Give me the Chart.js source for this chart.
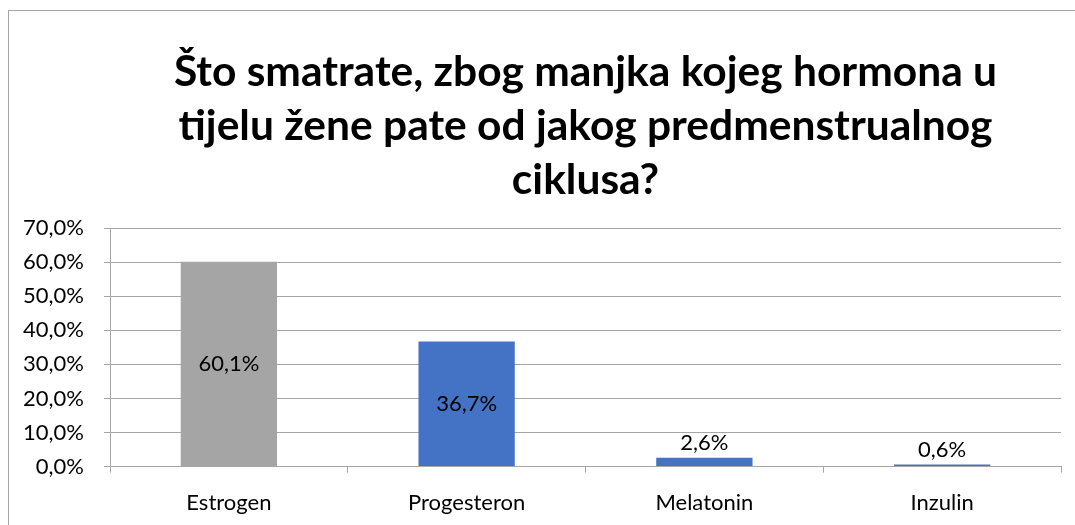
<!DOCTYPE html>
<html>
<head>
<meta charset="utf-8">
<script src="https://cdn.jsdelivr.net/npm/chart.js@4.4.1/dist/chart.umd.min.js"></script>
<style>
  html, body { margin: 0; padding: 0; background: #fff; overflow: hidden; }
  #frame {
    position: absolute; left: 8px; top: 10px;
    width: 1080px; height: 530px;
    border: 1px solid #a6a6a6;
  }
  canvas { display: block; }
</style>
</head>
<body>
<div id="frame">
  <canvas id="chart" width="1080" height="530"></canvas>
</div>
<script>
const titleLines = [
  'Što smatrate, zbog manjka kojeg hormona u',
  'tijelu žene pate od jakog predmenstrualnog',
  'ciklusa?'
];
const categories = ['Estrogen', 'Progesteron', 'Melatonin', 'Inzulin'];
const values = [60.1, 36.7, 2.6, 0.6];
const barColors = ['#a5a5a5', '#4472c4', '#4472c4', '#4472c4'];
const yMax = 70;
const yStep = 10;

const fmt = v => v.toFixed(1).replace('.', ',') + '%';
const FONT = 'Lato, Calibri, "Open Sans", sans-serif';

// title centred over the plot area, like the original
const plotTitle = {
  id: 'plotTitle',
  afterDraw(chart) {
    const ctx = chart.ctx;
    const cx = (chart.chartArea.left + chart.chartArea.right) / 2;
    ctx.save();
    ctx.font = 'bold 42.5px ' + FONT;
    ctx.fillStyle = '#000';
    ctx.textAlign = 'center';
    ctx.textBaseline = 'middle';
    titleLines.forEach((line, i) => ctx.fillText(line, cx, 61 + i * 54));
    ctx.restore();
  }
};

// draws the value labels: inside tall bars, above short ones
const valueLabels = {
  id: 'valueLabels',
  afterDatasetsDraw(chart) {
    const ctx = chart.ctx;
    const meta = chart.getDatasetMeta(0);
    ctx.save();
    ctx.font = '22px ' + FONT;
    ctx.fillStyle = '#000';
    ctx.textAlign = 'center';
    meta.data.forEach((bar, i) => {
      const v = values[i];
      if (v > 10) {
        ctx.textBaseline = 'middle';
        ctx.fillText(fmt(v), bar.x, (bar.y + bar.base) / 2);
      } else {
        ctx.textBaseline = 'bottom';
        ctx.fillText(fmt(v), bar.x, bar.y - 4);
      }
    });
    ctx.restore();
  }
};

new Chart(document.getElementById('chart'), {
  type: 'bar',
  data: {
    labels: categories,
    datasets: [{
      data: values,
      backgroundColor: barColors,
      barPercentage: 0.405,
      categoryPercentage: 1.0
    }]
  },
  options: {
    responsive: false,
    animation: false,
    layout: { padding: { left: 0, right: 28, top: 217, bottom: 8 } },
    plugins: {
      legend: { display: false },
      tooltip: { enabled: false },
      title: { display: false }
    },
    scales: {
      x: {
        grid: { display: true, drawOnChartArea: false, offset: true, tickLength: 6, color: '#a6a6a6' },
        border: { color: '#a6a6a6' },
        ticks: { color: '#000', font: { family: FONT, size: 22 }, padding: 17 }
      },
      y: {
        min: 0,
        max: yMax,
        afterFit: axis => { axis.width = 101; },
        ticks: {
          stepSize: yStep,
          color: '#000',
          font: { family: FONT, size: 22 },
          padding: 20,
          callback: v => fmt(v)
        },
        grid: { color: '#a6a6a6', tickLength: 6 },
        border: { color: '#a6a6a6' }
      }
    }
  },
  plugins: [valueLabels, plotTitle]
});
</script>
</body>
</html>
